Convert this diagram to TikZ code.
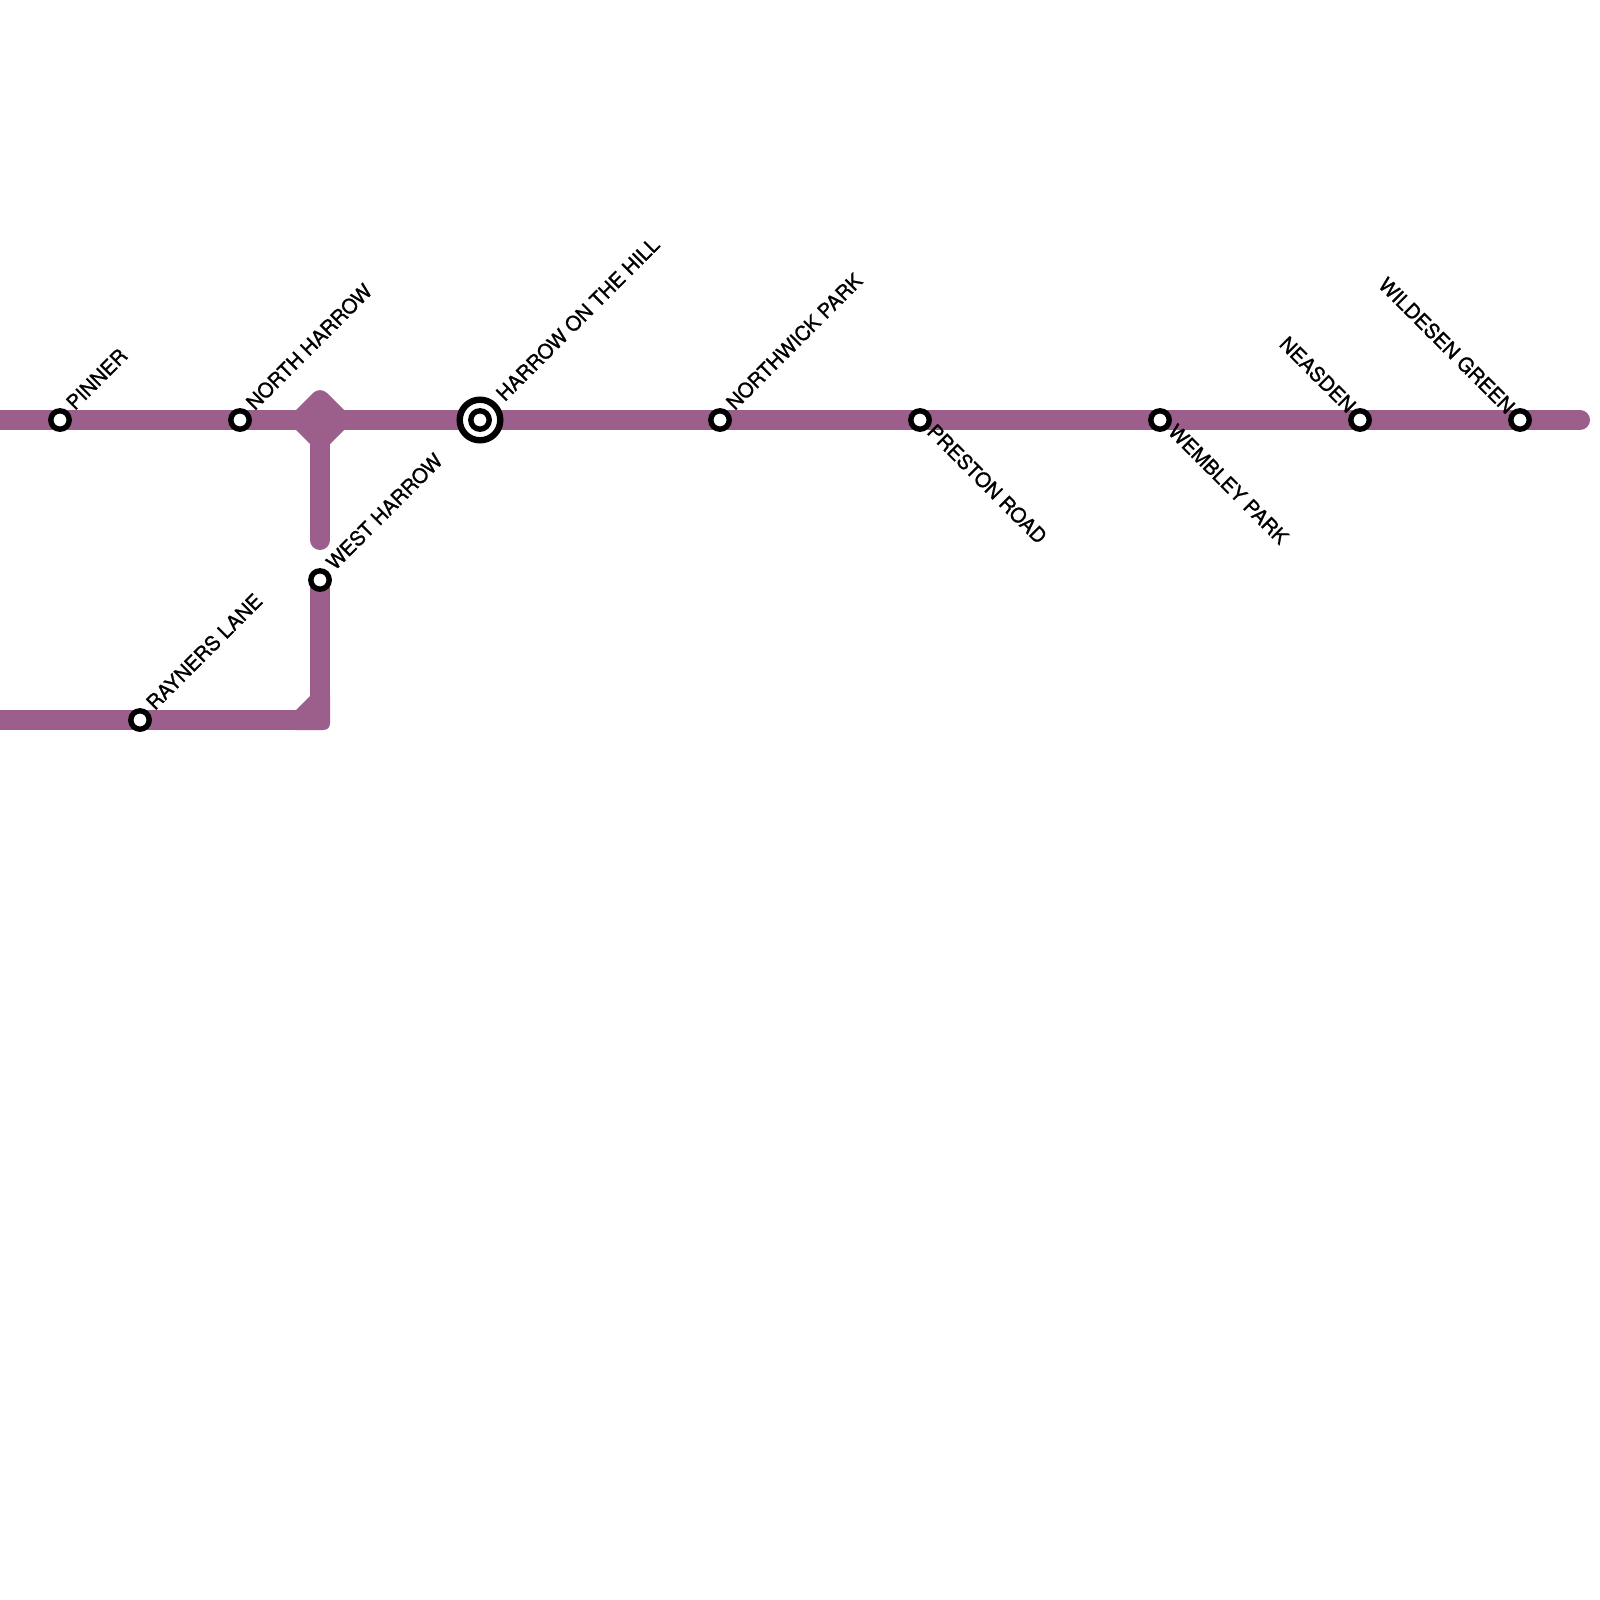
\documentclass[tikz,border=0pt]{standalone}
\usepackage{fontspec}
\setmainfont{TeX Gyre Heros}[FakeBold=1.1]
\definecolor{linecol}{HTML}{9C5F8B}
\tikzset{
  metro/.style={draw=linecol,line width=10pt,line cap=round,line join=miter},
  stn/.style={circle,draw=black,fill=white,line width=2.7pt,minimum size=9.2pt,inner sep=0pt,outer sep=0pt},
  bigring/.style={circle,draw=black,fill=white,line width=3.2pt,minimum size=20.3pt,inner sep=0pt,outer sep=0pt},
  lab/.style={font=\fontsize{10.05}{11}\selectfont,inner sep=0pt,outer sep=0pt,text=black},
  up/.style={lab,rotate=45,anchor=base west},
  downr/.style={lab,rotate=-45,anchor=base west},
  upl/.style={lab,rotate=-45,anchor=base east},
}
\begin{document}
\begin{tikzpicture}[x=0.5pt,y=-0.5pt]
\useasboundingbox (0,0) rectangle (1600,1600);
\fill[white] (0,0) rectangle (1600,1600);
\coordinate (w1) at (-20,420);
\coordinate (e1) at (1580,420);
\coordinate (j) at (320,420);
\coordinate (vb) at (320,540);
\coordinate (w2) at (-20,720);
\coordinate (wh) at (320,580);
\draw[metro] (w1) -- (e1);
\draw[metro] (j) -- (vb);
\draw[metro,line cap=butt] (w2) -- (300,720);
\draw[metro,line cap=butt] (wh) -- (320,700);
\fill[linecol] (296,730) -- (296,710) -- (310,696) -- (330,696) -- (330,723) .. controls (330,727.5) and (327.5,730) .. (323,730) -- cycle;
\fill[linecol] (296,410) [rounded corners=5pt] -- (320,386) [sharp corners] -- (344,410) -- (344,430) -- (330,444) -- (310,444) -- (296,430) -- cycle;
\node[stn] (pinner) at (60,420) {};
\node[stn] (northh) at (240,420) {};
\node[stn] (westh) at (320,580) {};
\node[stn] (rayners) at (140,720) {};
\node[bigring] (hothr) at (480,420) {};
\node[stn] (hoth) at (480,420) {};
\node[stn] (northw) at (720,420) {};
\node[stn] (preston) at (920,420) {};
\node[stn] (wembley) at (1160,420) {};
\node[stn] (neasden) at (1360,420) {};
\node[stn] (wildesen) at (1520,420) {};
\node[up] (l1) at (75,411) {PINNER};
\node[up] (l2) at (255,411) {NORTH HARROW};
\node[up] (l3) at (335,571) {WEST HARROW};
\node[up] (l4) at (155,711) {RAYNERS LANE};
\node[up] (l5) at (505,402) {HARROW ON THE HILL};
\node[up] (l6) at (735,411) {NORTHWICK PARK};
\node[downr] (l7) at (926,433) {PRESTON ROAD};
\node[downr] (l8) at (1167,433) {WEMBLEY PARK};
\node[upl] (l9) at (1347,414) {NEASDEN};
\node[upl] (l10) at (1506,415) {WILDESEN GREEN};
\end{tikzpicture}
\end{document}
